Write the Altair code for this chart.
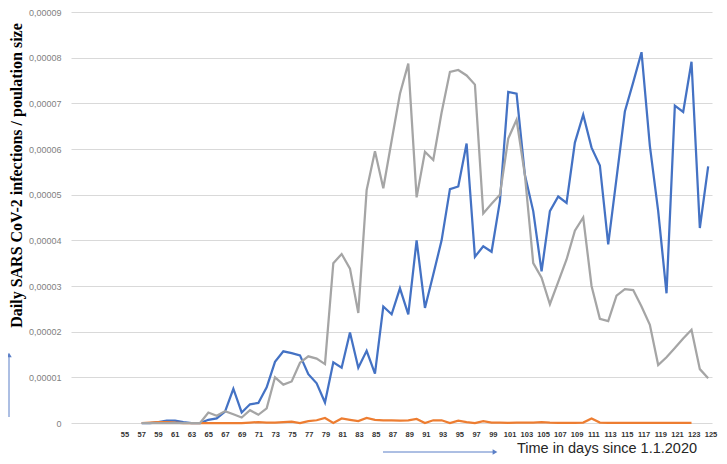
import altair as alt
import pandas as pd

# days since 1.1.2020 (one point per day)
days = list(range(57, 126))

blue = [0, 0, 0.02, 0.05, 0.05, 0.02, 0, 0, 0.07, 0.10,
        0.25, 0.75, 0.23, 0.41, 0.44, 0.78, 1.34, 1.57, 1.53, 1.48,
        1.07, 0.87, 0.45, 1.33, 1.21, 1.98, 1.21, 1.58, 1.08, 2.55,
        2.38, 2.95, 2.38, 4.00, 2.52, 3.25, 4.00, 5.12, 5.18, 6.12,
        3.64, 3.87, 3.75, 4.86, 7.25, 7.21, 5.43, 4.64, 3.32, 4.64,
        4.96, 4.82, 6.14, 6.75, 6.03, 5.64, 3.91, 5.36, 6.82, 7.46,
        8.12, 6.07, 4.64, 2.84, 6.95, 6.81, 7.91, 4.27, 5.62]

gray = [0, 0, 0, 0, 0, 0, 0, 0, 0.23, 0.16,
        0.26, 0.19, 0.12, 0.28, 0.18, 0.32, 1.00, 0.84, 0.91, 1.32,
        1.46, 1.41, 1.29, 3.50, 3.70, 3.38, 2.41, 5.10, 5.95, 5.14,
        6.18, 7.21, 7.87, 4.94, 5.94, 5.76, 6.80, 7.69, 7.73, 7.61,
        7.41, 4.59, 4.80, 5.00, 6.23, 6.64, 5.43, 3.50, 3.18, 2.60,
        3.09, 3.58, 4.21, 4.50, 3.00, 2.28, 2.23, 2.79, 2.93, 2.91,
        2.55, 2.15, 1.27, 1.44, 1.64, 1.85, 2.04, 1.18, 0.98]

orange = [0, 0.01, 0.02, 0.02, 0.01, 0, 0, 0, 0, 0,
          0, 0, 0, 0.01, 0.02, 0.01, 0.01, 0.02, 0.03, 0.0,
          0.04, 0.06, 0.11, 0.0, 0.10, 0.07, 0.04, 0.11, 0.07, 0.06,
          0.06, 0.05, 0.06, 0.09, 0.0, 0.06, 0.06, 0.0, 0.05, 0.02,
          0.0, 0.04, 0.01, 0.01, 0.005, 0.01, 0.01, 0.01, 0.02, 0.01,
          0.005, 0.005, 0.005, 0.01, 0.10, 0.01, 0.003, 0.003, 0.003, 0.003,
          0.003, 0.003, 0.003, 0.003, 0.003, 0.003, 0.005]

series_names = ["A", "B", "C"]
series_colors = ["#4472C4", "#ED7D31", "#A5A5A5"]

x_tick_labels = list(range(55, 126, 2))
y_ticks = [i * 1e-5 for i in range(0, 10)]

y_title = "Daily SARS CoV-2 infections / poulation size"
x_title = "Time in days since 1.1.2020"

rows = []
for name, vals in zip(series_names, [blue, orange, gray]):
    for d, v in zip(days, vals):
        rows.append({"day": d, "value": v * 1e-5, "series": name})
df = pd.DataFrame(rows)

H = 411

xscale = alt.Scale(domain=[48.51, 125.46], nice=False, zero=False)
label_scale = alt.Scale(domain=[48.549, 125.12], nice=False, zero=False)
yscale = alt.Scale(domain=[0, 9e-5], nice=False)
cscale = alt.Scale(domain=series_names, range=series_colors)

y_axis = alt.Axis(values=y_ticks, grid=True, gridColor="#D9D9D9", gridWidth=1,
                  ticks=False, domain=False, labelFont="Liberation Sans", labelFontSize=9,
                  labelColor="#7F7F7F", labelPadding=10,
                  labelExpr="datum.value == 0 ? '0' : replace(format(datum.value, '.5f'), '.', ',')",
                  title=y_title, titleFont="Liberation Serif", titleFontSize=16,
                  titleFontWeight="bold", titleColor="#000000", titleX=-55, titleY=163,
                  titleAngle=270, titleAlign="center", titleBaseline="middle")

base = alt.Chart(df).encode(
    x=alt.X("day:Q", scale=xscale, axis=None),
    y=alt.Y("value:Q", scale=yscale, axis=y_axis),
    color=alt.Color("series:N", scale=cscale, legend=None),
)
layers = []
for name in series_names:
    lyr = base.transform_filter(alt.datum.series == name).mark_line(
        strokeWidth=2.25, strokeJoin="miter"
    )
    layers.append(lyr)

tick_df = pd.DataFrame({"tick": x_tick_labels})
xlabels = alt.Chart(tick_df).mark_text(
    font="Liberation Sans", fontSize=7.5, fontWeight="bold", color="#333333",
    align="center", baseline="middle"
).encode(
    x=alt.X("tick:Q", scale=label_scale, axis=None),
    y=alt.value(H + 12),
    text=alt.Text("tick:Q"),
)

lab = pd.DataFrame({"t": [x_title]})
xtitle = alt.Chart(lab).mark_text(
    align="left", baseline="alphabetic", font="Liberation Sans", fontSize=14.5, color="#262626"
).encode(x=alt.value(446), y=alt.value(441), text="t:N")

arrow_color = "#5B7FC7"
h_rule = alt.Chart(lab).mark_rule(color=arrow_color, strokeWidth=1).encode(
    x=alt.value(312), x2=alt.value(423), y=alt.value(440))
h_head = alt.Chart(lab).mark_point(shape="triangle-right", filled=True, color=arrow_color,
                                   size=30, opacity=1).encode(x=alt.value(424), y=alt.value(440))
v_rule = alt.Chart(lab).mark_rule(color=arrow_color, strokeWidth=1).encode(
    x=alt.value(-62), y=alt.value(344), y2=alt.value(405))
v_head = alt.Chart(lab).mark_point(shape="triangle-up", filled=True, color=arrow_color,
                                   size=30, opacity=1).encode(x=alt.value(-62), y=alt.value(343))

chart = alt.layer(*layers, xlabels, xtitle, h_rule, h_head, v_rule, v_head).resolve_scale(
    x="independent"
).properties(
    width=641, height=H,
    padding={"left": 63, "top": 4, "right": 7, "bottom": 33},
    autosize=alt.AutoSizeParams(type="none"),
    background="white",
).configure_view(stroke=None)

chart.save("out.html", embed_options={"renderer": "svg", "actions": False})
